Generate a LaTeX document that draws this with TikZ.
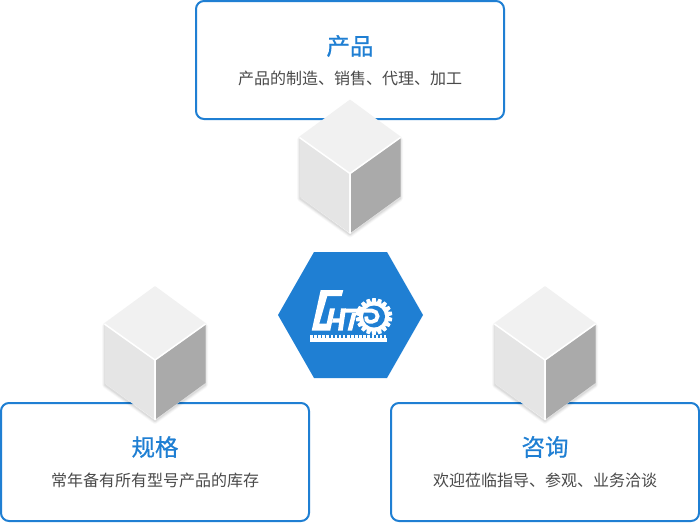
\documentclass[tikz,border=0pt]{standalone}
\usepackage{fontspec}
\setmainfont{Noto Sans CJK SC}
\newfontfamily\headfont[FakeBold=0.6]{Noto Sans CJK SC}
\definecolor{brand}{HTML}{1F7FD3}
\definecolor{subtext}{HTML}{4A4A4A}
\definecolor{cubeTop}{HTML}{F1F1F1}
\definecolor{cubeLeft}{HTML}{E5E5E5}
\definecolor{cubeRight}{HTML}{AAAAAA}
\tikzset{
  x=1pt,y=-1pt,
  card/.style={draw=brand,line width=2pt,rounded corners=8pt,fill=white,minimum width=308pt,minimum height=118pt,inner sep=0pt},
  headline/.style={text=brand,font=\headfont\fontsize{23.5}{24}\selectfont,inner sep=0pt},
  subline/.style={text=subtext,font=\fontsize{16}{16}\selectfont,inner sep=0pt},
  logoink/.style={fill=white,draw=none},
  pics/cube/.style={code={
    \foreach \w/\o in {6/0.025,4.5/0.03,3/0.035,1.5/0.05}{
      \draw[line width=\w pt,line join=round,black,opacity=\o] (0,-70)--(50,-34)--(50,25)--(0,61)--(-50,25)--(-50,-34)--cycle;
    }
    \fill[white] (0,-72)--(50,-36)--(50,23)--(0,60)--(-50,23)--(-50,-36)--cycle;
    \draw[fill=cubeTop,draw=cubeTop,line width=1.5pt,line join=round] (0,-73)--(49.5,-36.5)--(0,-1)--(-49.5,-36.5)--cycle;
    \fill[cubeLeft] (-50.5,-35.5)--(-1,0)--(-1,59)--(-50.5,23)--cycle;
    \fill[cubeRight] (50.5,-35.5)--(1,0)--(1,59)--(50.5,23)--cycle;
    \draw[white,line width=1.5pt] (-50.5,-36)--(0,0)--(50.5,-36) (0,0)--(0,60);
  }}
}
\begin{document}
\begin{tikzpicture}
\useasboundingbox (0,0) rectangle (700,522);
\clip (0,0) rectangle (700,522);
\fill[white] (0,0) rectangle (700,522);

\node[card] (prodbox) at (350,60) {};
\node[card] (specbox) at (155,462) {};
\node[card] (consbox) at (545,462) {};

\pic at (350,173.5) {cube};
\pic at (155,360) {cube};
\pic at (545,360) {cube};

\node[headline] (prodtitle) at (350,46) {产品};
\node[subline] (prodsub) at (350,78) {产品的制造、销售、代理、加工};
\node[headline] (spectitle) at (155,447) {规格};
\node[subline] (specsub) at (155,480) {常年备有所有型号产品的库存};
\node[headline] (constitle) at (545,447) {咨询};
\node[subline] (conssub) at (545,480) {欢迎莅临指导、参观、业务洽谈};

% hexagon
\fill[brand] (278,315)--(314,252)--(387,252)--(423,315)--(387,378)--(314,378)--cycle;

% gear
\foreach \a in {0,20,...,340}{
  \fill[logoink,rotate around={\a:(374,316.5)}] (372.3,298.2)--(375.7,298.2)--(376.6,304)--(371.4,304)--cycle;
}
\fill[logoink] (374,316.5) circle[radius=15];
\fill[brand] (374,316.5) circle[radius=11];
% logo letters
\fill[logoink] (320.7,290)--(343.3,290)--(341.7,296)--(327.3,296)--(319.3,323.5)--(326.7,323.5)--(330,308.3)--(335,308.3)--(330.2,330.7)--(311.7,330.7)--cycle;
\fill[logoink] (333,318.3)--(343,318.3)--(342,322.7)--(332,322.7)--cycle;
\fill[logoink] (341,308.3)--(346,308.3)--(342.7,330.7)--(338,330.7)--cycle;
\fill[logoink] (352,313)--(356.5,313)--(352,330.7)--(347.5,330.7)--cycle;
\draw[white,line width=3.8pt] (345,310.6)--(372,310.6) arc[start angle=-90,end angle=90,radius=5.6] -- (370,321.8) arc[start angle=90,end angle=200,radius=4];
% rack
\fill[logoink] (310,337.5) rectangle (387,341.7);
\foreach \i in {0,...,18}{
  \fill[logoink] (310+\i*4.1,335.3) rectangle (312.6+\i*4.1,338);
}
\end{tikzpicture}
\end{document}
